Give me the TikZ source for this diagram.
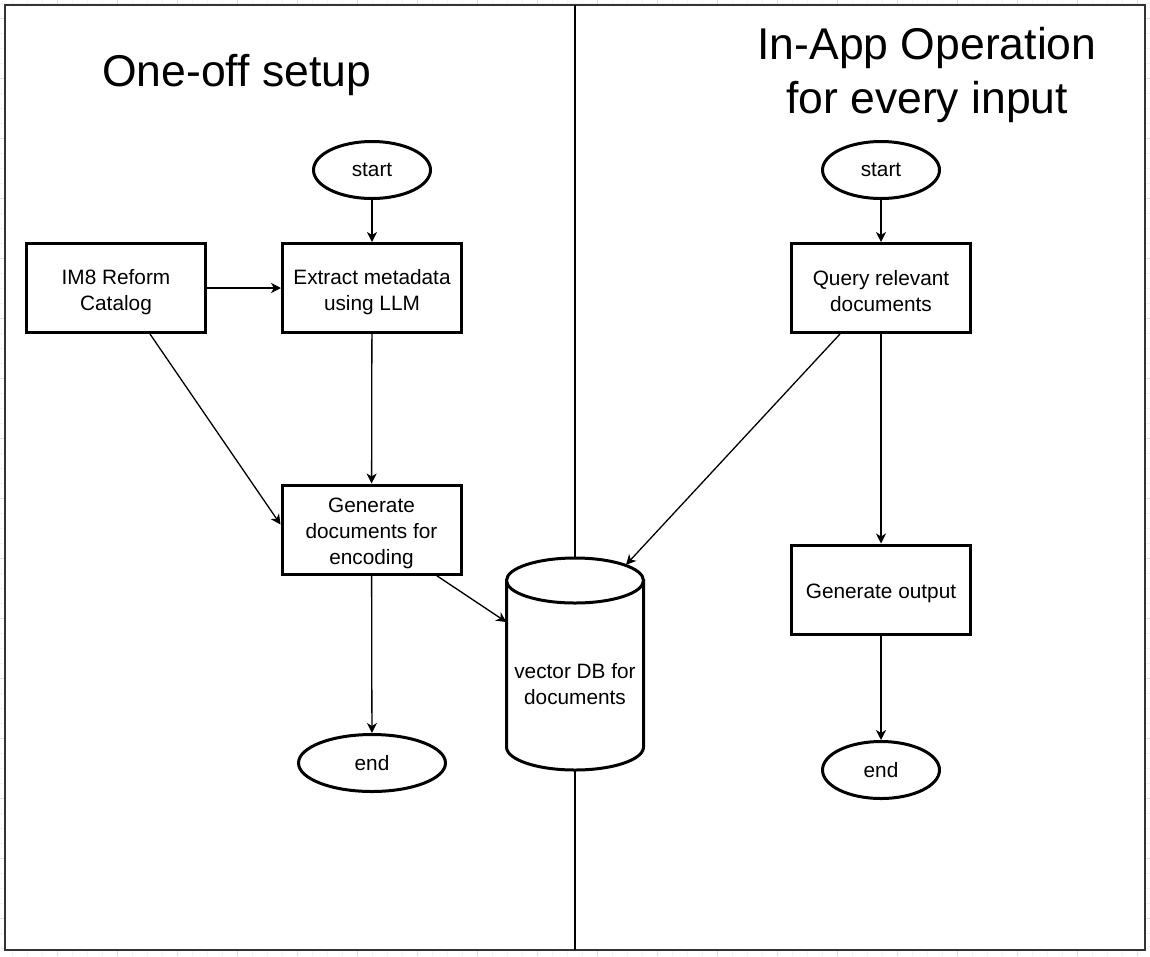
\documentclass[tikz,border=0pt]{standalone}
\usepackage{fontspec}
\setmainfont{Liberation Sans}
\usetikzlibrary{arrows.meta,shapes.geometric}
\newcommand\bt{\rule{0pt}{23pt}}
\newcommand\bb{\rule[-3pt]{0pt}{3pt}}
\begin{document}
\begin{tikzpicture}[x=1pt,y=-1pt,
  txt/.style={font=\fontsize{20.8}{26}\selectfont},
  box/.style={txt, draw, line width=3pt, fill=white, minimum width=179pt, minimum height=89pt, align=center, inner sep=0pt},
  term/.style={txt, draw, ellipse, line width=3pt, fill=white, minimum width=117pt, minimum height=57pt, inner sep=0pt},
  conn/.style={line width=1.3pt, -{Stealth[length=10pt,width=10pt,inset=3pt]}},
  title/.style={align=center, font=\fontsize{44.5}{54.5}\selectfont},
  minorgrid/.style={draw=black!5, line width=0.8pt},
  majorgrid/.style={draw=black!12, line width=0.8pt}
]
\useasboundingbox (0,0) rectangle (1150,956);
% faint background grid
\foreach \i in {0,...,77} {\draw[minorgrid] ({-3+15*\i},0) -- ({-3+15*\i},956);}
\foreach \i in {0,...,64} {\draw[minorgrid] (0,{3+15*\i}) -- (1150,{3+15*\i});}
\foreach \i in {0,...,19} {\draw[majorgrid] ({-3+60*\i},0) -- ({-3+60*\i},956);}
\foreach \i in {0,...,15} {\draw[majorgrid] (0,{18+60*\i}) -- (1150,{18+60*\i});}
% frame and divider
\draw[line width=2pt, draw=black!80, fill=white] (5,5) rectangle (1145,950);
\draw[line width=1.2pt] (575,5) -- (575,950);

% titles
\node[title] (t1) at (236.5,75) {One-off setup};
\node[title] (t2) at (927,75) {In-App Operation\\for every input};

% cylinder
\node[inner sep=0pt, minimum width=137pt, minimum height=212pt] (db) at (575,664) {};
\path[draw, line width=3pt, fill=white] (506.5,580.5) -- (506.5,747) arc[start angle=180, end angle=0, x radius=68.5, y radius=23] -- (643.5,580.5) -- cycle;
\draw[line width=3pt, fill=white] (575,580.5) ellipse [x radius=68.5, y radius=22.5];
\node[txt, align=center, inner sep=0pt] (dbl) at (575,681) {\bt vector DB for\\documents\bb};

% left column
\node[term] (s1) at (372,170) {start};
\node[box] (im8) at (116,288) {\bt IM8 Reform\\Catalog\bb};
\node[box] (ext) at (372,288) {\bt Extract metadata\\using LLM\bb};
\node[box] (gen) at (371.5,529.5) {\bt Generate\\documents for\\encoding\bb};
\node[term, minimum width=147pt] (e1) at (372,763) {end};

% right column
\node[term] (s2) at (881,170) {start};
\node[box] (qry) at (881,288) {\bt Query relevant\\documents\bb};
\node[box] (gout) at (881,589.5) {\bt Generate output\bb};
\node[term] (e2) at (881,770) {end};

% connectors
\draw[conn] (s1) -- (ext);
\draw[conn] (im8) -- (ext);
\draw[conn] (ext) -- (gen);
\draw[conn] ([xshift=34pt]im8.south) -- ([yshift=5pt]gen.west);
\draw[conn] (gen) -- (e1);
\draw[conn] ([xshift=65pt]gen.south) -- ([yshift=42pt]db.west);
\draw[conn] ([xshift=-41pt]qry.south) -- ([xshift=51pt,yshift=-7pt]db.north);
\draw[conn] (s2) -- (qry);
\draw[conn] (qry) -- (gout);
\draw[conn] (gout) -- (e2);
\end{tikzpicture}
\end{document}
